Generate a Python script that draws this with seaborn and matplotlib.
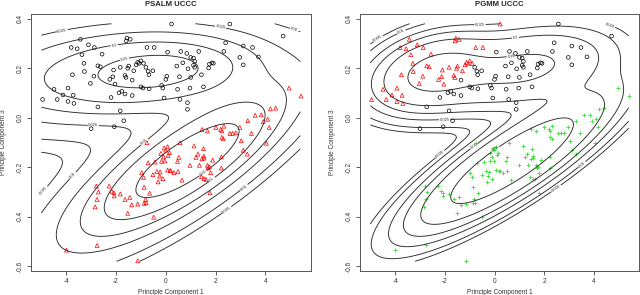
import numpy as np
import pandas as pd
import matplotlib
matplotlib.use("Agg")
import matplotlib.pyplot as plt
import seaborn as sns

# points: upper cluster (black in PSALM), split by PGMM class
upper_red_x = [0.23, -3.43, -1.56, -1.43, -1.59, -3.8, -3.56, -3.11, -2.87, -3.37, -2.56, -0.76, -0.47,
               -3.29, -2.73, -2.63, -3.75, -3.27, -2.89, -3.03, -3.93, -4.49, -4.13, -3.72, -4.95, -4.36,
               -3.93, -3.69, -2.1, -2.13, -2.25, -2.04, -1.83, -1.53, -1.49, -1.64, -1.6, -1.19, -1.13,
               -1.07, -1.0, -1.29, -0.9]
upper_red_y = [0.379, 0.317, 0.322, 0.317, 0.311, 0.284, 0.279, 0.295, 0.284, 0.255, 0.257, 0.284, 0.284,
               0.22, 0.21, 0.206, 0.174, 0.187, 0.168, 0.139, 0.12, 0.115, 0.092, 0.091, 0.074, 0.074,
               0.066, 0.058, 0.193, 0.166, 0.155, 0.136, 0.204, 0.2, 0.209, 0.171, 0.163, 0.214, 0.224,
               0.22, 0.23, 0.19, 0.22]
upper_blk_x = [2.57, 4.71, 0.07, 2.4, 3.11, 3.48, 2.33, 2.97, 3.72, 3.11, 0.6, 0.84, 1.0, 1.11, 1.32,
               1.16, 1.11, 1.16, 0.68, 1.75, 1.85, 1.91, 1.72, 0.89, 0.44, 1.43, 1.0, 0.55, 1.51, 0.97,
               0.47, 0.87, 0.57, 0.87, -0.07, -0.8, -0.71, -0.52, -0.68, 0.04, 0.0, -1.35, -1.0, -0.92,
               -0.67, -1.88, -1.77, -1.64, -2.2, -1.35, -0.17, -0.12, -2.73, -1.83, -1.69, -3.0, -2.07]
upper_blk_y = [0.379, 0.33, 0.265, 0.303, 0.29, 0.284, 0.268, 0.244, 0.246, 0.214, 0.268, 0.26, 0.244,
               0.241, 0.268, 0.228, 0.212, 0.204, 0.222, 0.217, 0.222, 0.22, 0.201, 0.198, 0.209, 0.174,
               0.163, 0.166, 0.125, 0.12, 0.115, 0.061, 0.074, 0.034, 0.08, 0.204, 0.188, 0.19, 0.174,
               0.168, 0.155, 0.152, 0.125, 0.12, 0.117, 0.101, 0.107, 0.096, 0.082, 0.09, 0.131, 0.12,
               0.044, 0.028, -0.012, -0.044, -0.036]
# lower cluster (red triangles in PSALM, green crosses in PGMM)
lower_x = [4.2, 4.41, 4.95, 5.43, 3.29, 3.59, 3.83, 3.91, 4.09, 4.15, 2.97, 3.44, 2.01, 2.2, 2.33, 2.25,
           1.45, 1.67, 2.57, 2.68, 2.81, 2.25, 2.31, 3.03, 4.04, 0.57, 1.13, 1.51, 3.11, 3.27, 1.29, 1.53,
           1.21, 1.45, 1.53, 0.52, 0.47, 2.23, 1.88, 0.97, 1.35, 1.67, 1.75, 1.69, 2.23, 0.2, 0.33, 0.49,
           1.8, 1.43, 1.53, 1.61, 0.65, -0.76, -0.07, 0.07, -0.01, 0.15, -0.09, 0.09, -0.2, -0.04, -0.71,
           -0.44, -0.17, -0.97, -0.89, -0.52, -0.36, -0.23, -0.25, -0.12, 0.07, 0.17, -2.28, -2.79, -0.87,
           -0.65, -2.71, -2.17, -2.07, -2.09, -1.83, -2.76, -1.64, -1.45, -2.84, -1.37, -1.13, -0.81, -0.87,
           -0.79, -1.53, -0.49, -2.76, -3.99, -1.13, 1.77, -0.31]
lower_y = [0.036, 0.039, 0.12, 0.088, -0.012, 0.01, 0.012, -0.015, -0.006, -0.039, -0.039, -0.063, -0.039,
           -0.047, -0.034, -0.053, -0.047, -0.053, -0.063, -0.063, -0.061, -0.079, -0.085, -0.093, -0.103,
           -0.101, -0.114, -0.125, -0.131, -0.147, -0.147, -0.155, -0.16, -0.166, -0.163, -0.16, -0.176,
           -0.158, -0.171, -0.192, -0.192, -0.192, -0.198, -0.203, -0.203, -0.214, -0.222, -0.217, -0.222,
           -0.238, -0.246, -0.249, -0.252, -0.101, -0.122, -0.117, -0.131, -0.141, -0.158, -0.152, -0.144,
           -0.174, -0.182, -0.179, -0.176, -0.222, -0.241, -0.23, -0.217, -0.219, -0.236, -0.246, -0.211,
           -0.214, -0.276, -0.276, -0.281, -0.305, -0.3, -0.297, -0.316, -0.303, -0.308, -0.33, -0.33,
           -0.322, -0.36, -0.352, -0.349, -0.33, -0.346, -0.343, -0.386, -0.402, -0.516, -0.535, -0.578,
           -0.303, -0.259]

levels = [0.005, 0.01, 0.025, 0.05, 0.1, 0.25]

# fitted component shapes: mx, my, sx, sy, rho, peak, skew
psalm_mx = [-0.24, 1.11]
psalm_my = [0.19, -0.16]
psalm_sx = [1.786, 1.222]
psalm_sy = [0.06, 0.088]
psalm_rho = [0.2, 0.79]
psalm_peak = [0.72, 1.32]
psalm_skew = [-0.24, -0.12]

pgmm_mx = [-2.4, 1.2, 0.7]
pgmm_my = [0.185, 0.2, -0.175]
pgmm_sx = [1.3, 2.0, 2.01]
pgmm_sy = [0.08, 0.09, 0.14]
pgmm_rho = [0.3, 0.35, 0.85]
pgmm_peak = [0.33, 0.30, 0.53]

gx = np.linspace(-5, 5.4, 300)
gy = np.linspace(-0.58, 0.38, 300)
GX, GY = np.meshgrid(gx, gy)


def component(mx, my, sx, sy, rho, peak, skew=None):
    zx = (GX - mx) / sx
    zy = (GY - my) / sy
    q = (zx ** 2 - 2 * rho * zx * zy + zy ** 2) / (1 - rho ** 2)
    if skew is None:
        return peak * np.exp(-0.5 * q)
    return peak * np.exp(-np.sqrt(q) + skew * zx)


dens_psalm = sum(component(*p) for p in zip(psalm_mx, psalm_my, psalm_sx, psalm_sy,
                                              psalm_rho, psalm_peak, psalm_skew))
dens_pgmm = sum(component(*p) for p in zip(pgmm_mx, pgmm_my, pgmm_sx, pgmm_sy, pgmm_rho, pgmm_peak))

sns.set_style("white")
plt.rcParams["font.family"] = ["Liberation Sans", "DejaVu Sans"]
plt.rcParams["axes.unicode_minus"] = False

fig = plt.figure(figsize=(6.4, 2.95), dpi=100)
ax1 = fig.add_axes([0.0484, 0.0824, 0.437, 0.869])
ax2 = fig.add_axes([0.5625, 0.0824, 0.436, 0.869])

up_x = upper_red_x + upper_blk_x
up_y = upper_red_y + upper_blk_y

fmt = {lv: str(lv) for lv in levels}


def draw_contours(ax, dens):
    cs = ax.contour(GX, GY, dens, levels=levels, colors="#2a2a2a", linewidths=0.65)
    ax.clabel(cs, fmt=fmt, fontsize=3, inline=True, inline_spacing=1)


draw_contours(ax1, dens_psalm)
sns.scatterplot(x=up_x, y=up_y, ax=ax1, marker="o", s=7, facecolor="none", edgecolor="black", linewidth=0.5)
sns.scatterplot(x=lower_x, y=lower_y, ax=ax1, marker="^", s=8, facecolor="none", edgecolor="red", linewidth=0.5)

draw_contours(ax2, dens_pgmm)
sns.scatterplot(x=upper_red_x, y=upper_red_y, ax=ax2, marker="^", s=8, facecolor="none", edgecolor="red", linewidth=0.5)
sns.scatterplot(x=upper_blk_x, y=upper_blk_y, ax=ax2, marker="o", s=7, facecolor="none", edgecolor="black", linewidth=0.5)
sns.scatterplot(x=lower_x, y=lower_y, ax=ax2, marker="+", s=12, color="#33e033", linewidth=0.6)

for ax, title in [(ax1, "PSALM UCCC"), (ax2, "PGMM UCCC")]:
    ax.set_xlim(-5.416, 5.816)
    ax.set_ylim(-0.618, 0.418)
    ax.set_xticks([-4, -2, 0, 2, 4])
    ax.set_xticklabels(["-4", "-2", "0", "2", "4"])
    ax.set_yticks([-0.6, -0.4, -0.2, 0.0, 0.2, 0.4])
    ax.set_yticklabels(["-0.6", "-0.4", "-0.2", "0.0", "0.2", "0.4"], rotation=90, va="center")
    ax.tick_params(direction="out", length=3, width=0.6, colors="#444444", labelsize=4.7, pad=2,
                   bottom=True, left=True, labelcolor="#333333")
    for sp in ax.spines.values():
        sp.set_color("#555555")
        sp.set_linewidth(0.7)
    ax.set_xlabel("Principle Component 1", fontsize=4.7, color="#333333")
    ax.set_ylabel("Principle Component 3", fontsize=4.7, color="#333333")
    ax.xaxis.set_label_coords(0.5, -0.07)
    ax.yaxis.set_label_coords(-0.086, 0.5)
    ax.set_title(title, fontsize=5.6, fontweight="bold", pad=6)

fig.savefig("out.png", dpi=100)
